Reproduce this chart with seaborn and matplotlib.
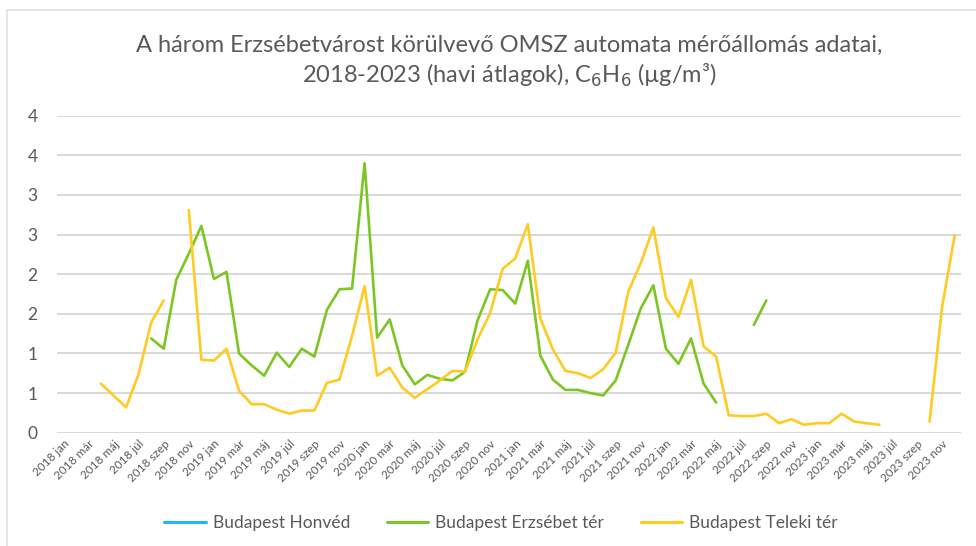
"""Monthly C6H6 averages at three OMSZ stations around Erzsébetváros, 2018-2023."""

import matplotlib.pyplot as plt
import numpy as np
import pandas as pd
import seaborn as sns
from matplotlib.lines import Line2D

nan = np.nan

YEARS = [2018, 2019, 2020, 2021, 2022, 2023]
MONTH_NAMES = ["jan", "febr", "már", "ápr", "máj", "jún",
               "júl", "aug", "szep", "okt", "nov", "dec"]

# Budapest Honvéd: no data in the period (legend only)
honved = [nan] * 72

erzsebet = [
    nan, nan, nan, nan, nan, nan, nan, 1.19, 1.06, 1.93, 2.26, 2.61,
    1.94, 2.03, 1.00, 0.85, 0.72, 1.01, 0.83, 1.06, 0.96, 1.55, 1.81, 1.82,
    3.40, 1.20, 1.43, 0.85, 0.61, 0.73, 0.68, 0.66, 0.77, 1.42, 1.81, 1.80,
    1.63, 2.17, 0.97, 0.67, 0.54, 0.54, 0.50, 0.47, 0.66, 1.11, 1.57, 1.86,
    1.06, 0.87, 1.19, 0.62, 0.38, nan, nan, 1.36, 1.67, nan, nan, nan,
    nan, nan, nan, nan, nan, nan, nan, nan, nan, nan, nan, nan,
]

teleki = [
    nan, nan, nan, 0.62, 0.47, 0.32, 0.74, 1.39, 1.67, nan, 2.81, 0.92,
    0.91, 1.06, 0.53, 0.36, 0.36, 0.29, 0.24, 0.28, 0.28, 0.63, 0.67, 1.22,
    1.85, 0.72, 0.82, 0.57, 0.44, 0.55, 0.66, 0.78, 0.77, 1.18, 1.51, 2.07,
    2.20, 2.63, 1.44, 1.05, 0.78, 0.75, 0.69, 0.80, 1.01, 1.78, 2.14, 2.59,
    1.70, 1.46, 1.93, 1.09, 0.96, 0.22, 0.21, 0.21, 0.24, 0.12, 0.17, 0.10,
    0.12, 0.12, 0.24, 0.14, 0.12, 0.10, nan, nan, nan, 0.14, 1.59, 2.49,
]

series_names = ["Budapest Honvéd", "Budapest Erzsébet tér", "Budapest Teleki tér"]
series_values = [honved, erzsebet, teleki]
series_colors = ["#1DB9F0", "#7CC624", "#FFCB22"]

y_ticks = [0, 0.5, 1, 1.5, 2, 2.5, 3, 3.5, 4]
y_tick_labels = ["0", "1", "1", "2", "2", "3", "3", "4", "4"]

month_labels = [f"{y} {m}" for y in YEARS for m in MONTH_NAMES]

TEXT = "#595959"
GRID = "#D9D9D9"

sns.set_theme(style="white", rc={"axes.edgecolor": "white"})
plt.rcParams["font.family"] = ["Lato", "DejaVu Sans"]

fig = plt.figure(figsize=(9.76, 5.46), dpi=100)
ax = fig.add_axes([0.0584, 0.2075, 0.9262, 0.5805])

idx = np.arange(72)
for name, vals, col in zip(series_names, series_values, series_colors):
    df = pd.DataFrame({"i": idx, "v": vals})
    df["seg"] = df["v"].isna().cumsum()
    df = df.dropna()
    if df.empty:
        continue
    sns.lineplot(data=df, x="i", y="v", units="seg", estimator=None,
                 color=col, linewidth=1.9, ax=ax, legend=False)

ax.set_xlim(-0.5, 71.5)
ax.set_ylim(0, 4)
ax.set_yticks(y_ticks)
ax.set_yticklabels(y_tick_labels, fontsize=12.5, color=TEXT)
ax.set_xticks(idx[::2])
ax.set_xticklabels(month_labels[::2], rotation=45, ha="right",
                   rotation_mode="anchor", fontsize=8.5, color=TEXT)
ax.tick_params(axis="y", length=0, pad=14)
ax.tick_params(axis="x", length=0, pad=4)
ax.set_xlabel("")
ax.set_ylabel("")
ax.grid(axis="y", color=GRID, linewidth=1.4)
ax.set_axisbelow(True)
for s in ax.spines.values():
    s.set_visible(False)

fig.text(509 / 976, 1 - 45 / 546,
         "A három Erzsébetvárost körülvevő OMSZ automata mérőállomás adatai,",
         ha="center", va="center", fontsize=17, color=TEXT)
fig.text(509 / 976, 1 - 75 / 546,
         "2018-2023 (havi átlagok), C$_6$H$_6$ (µg/m³)",
         ha="center", va="center", fontsize=17, color=TEXT)

handles = [Line2D([0], [0], color=c, linewidth=2.2) for c in series_colors]
fig.legend(handles, series_names, loc="center", ncol=3, frameon=False,
           bbox_to_anchor=(501 / 976, 1 - 523 / 546), fontsize=12.5,
           handlelength=2.4, handletextpad=0.4, columnspacing=2.1,
           labelcolor=TEXT)

# light chart frame (left and top edges)
fig.add_artist(Line2D([7 / 976, 7 / 976], [0, 1 - 10 / 546],
                      color="#E0E0E0", linewidth=1.2))
fig.add_artist(Line2D([7 / 976, 1], [1 - 10 / 546, 1 - 10 / 546],
                      color="#E0E0E0", linewidth=1.2))

fig.savefig("out.png", dpi=100)
